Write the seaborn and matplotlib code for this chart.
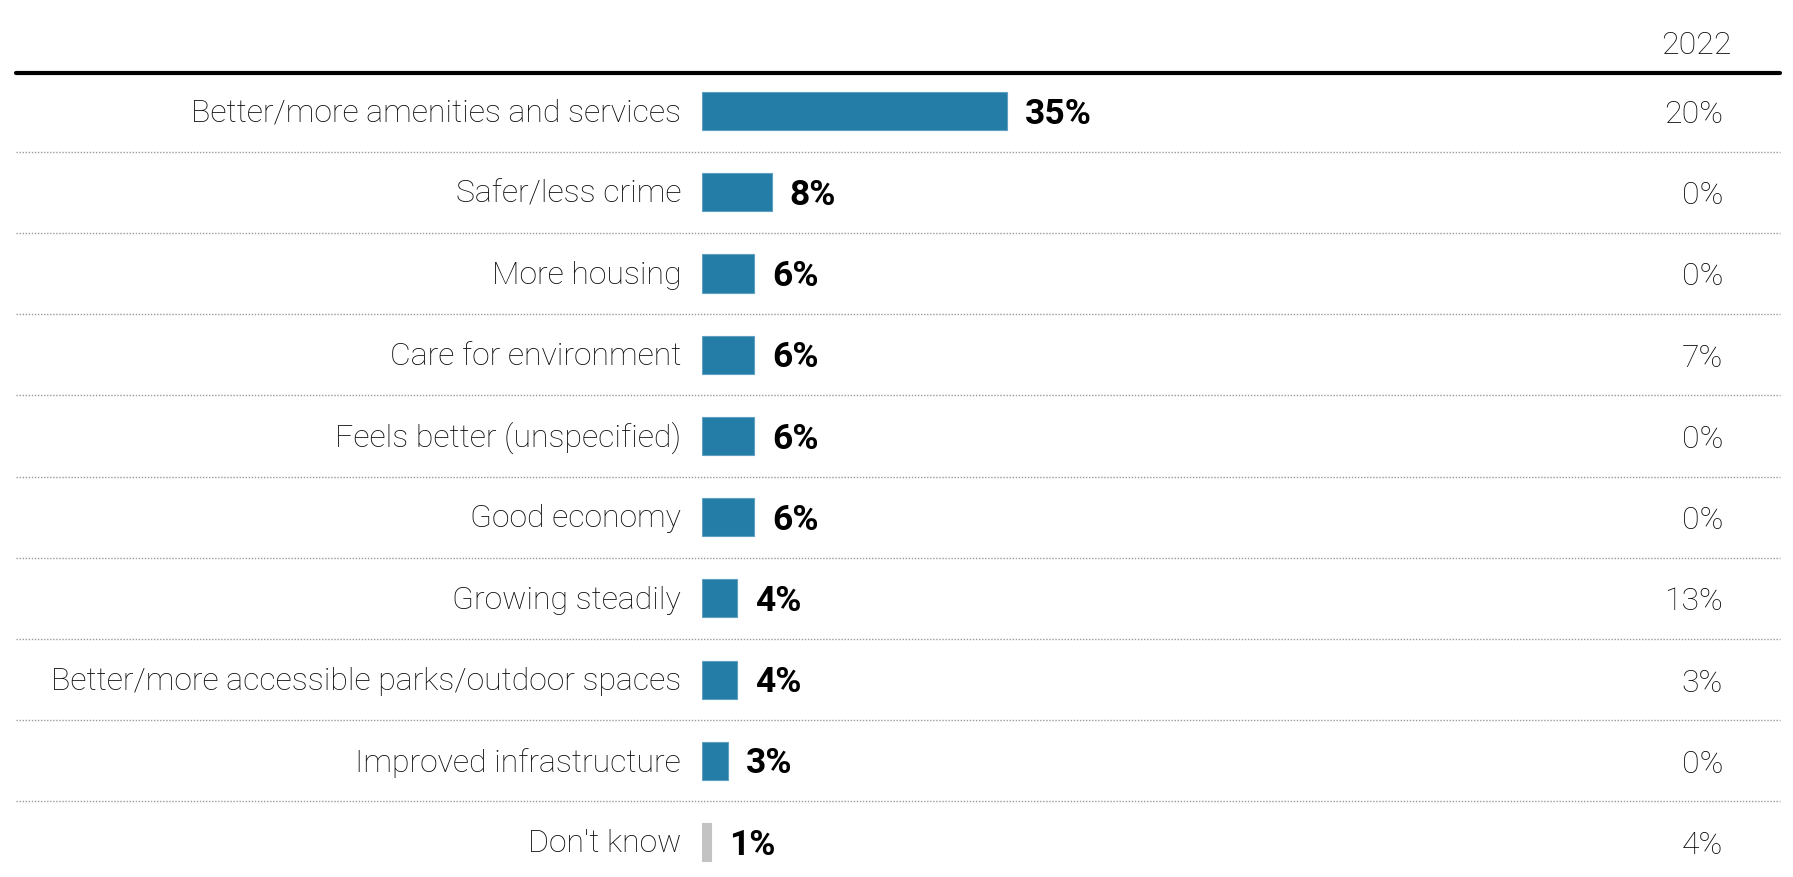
import matplotlib
matplotlib.use("Agg")
import matplotlib.pyplot as plt
import matplotlib.transforms as mtransforms
from matplotlib.lines import Line2D
import pandas as pd
import seaborn as sns

categories = [
    "Better/more amenities and services",
    "Safer/less crime",
    "More housing",
    "Care for environment",
    "Feels better (unspecified)",
    "Good economy",
    "Growing steadily",
    "Better/more accessible parks/outdoor spaces",
    "Improved infrastructure",
    "Don't know",
]
values_current = [35, 8, 6, 6, 6, 6, 4, 4, 3, 1]
values_2022 = [20, 0, 0, 7, 0, 0, 13, 3, 0, 4]
column_header = "2022"

BLUE = "#237da6"
GREY = "#c3c3c3"
bar_colors = [GREY if c == "Don't know" else BLUE for c in categories]

sns.set_theme(style="white")
plt.rcParams["font.family"] = ["Roboto", "DejaVu Sans"]

W, H, DPI = 1793, 878, 100
fig = plt.figure(figsize=(W / DPI, H / DPI), dpi=DPI)

# axes: bars start at x=702px, ~8.7px per percentage point
left_px, right_px = 702, 1780
top_px = 74
ax = fig.add_axes([left_px / W, 0, (right_px - left_px) / W, 1 - top_px / H])

df = pd.DataFrame({"category": categories, "value": values_current})
sns.barplot(
    data=df, x="value", y="category", hue="category",
    palette=bar_colors, saturation=1, legend=False, orient="h", width=0.47,
    edgecolor="#5fa0c2", linewidth=0.8, ax=ax,
)
for patch, col in zip(ax.patches, bar_colors):
    if col == GREY:
        patch.set_edgecolor(GREY)

ax.set_xlim(0, (right_px - left_px) / 8.71)
ax.set_ylim(9.43, -0.468)
ax.axis("off")

TXT = "#0a0a0a"

# value labels next to the bars
for i, v in enumerate(values_current):
    ax.annotate(f"{v}%", xy=(v, i), xytext=(13, -1.5), textcoords="offset points",
                ha="left", va="center", fontsize=25.5, fontweight="bold", color="#000000")

# category labels and 2022 column in figure-x / data-y coordinates
trans = mtransforms.blended_transform_factory(fig.transFigure, ax.transData)
for i, (cat, v22) in enumerate(zip(categories, values_2022)):
    ax.text(681 / W, i + 0.01, cat, transform=trans, ha="right", va="center",
            fontsize=23, fontweight="light", color=TXT)
    ax.text(1723 / W, i + 0.03, f"{v22}%", transform=trans, ha="right", va="center",
            fontsize=23, fontweight="light", color=TXT)

# dotted separators between rows
for k in range(len(categories) - 1):
    ax.add_line(Line2D([16 / W, right_px / W], [k + 0.5, k + 0.5], transform=trans,
                       color="#9a9a9a", linewidth=1.0, linestyle=(0, (1, 1.2)),
                       clip_on=False))

# heavy header rule and column heading
fig.add_artist(Line2D([16 / W, right_px / W], [1 - top_px / H] * 2,
                      transform=fig.transFigure, color="black", linewidth=3.0))
fig.text(1732 / W, 1 - 46 / H, column_header, ha="right", va="center",
         fontsize=23, fontweight="light", color=TXT)

fig.savefig("out.png", dpi=DPI, facecolor="white")
